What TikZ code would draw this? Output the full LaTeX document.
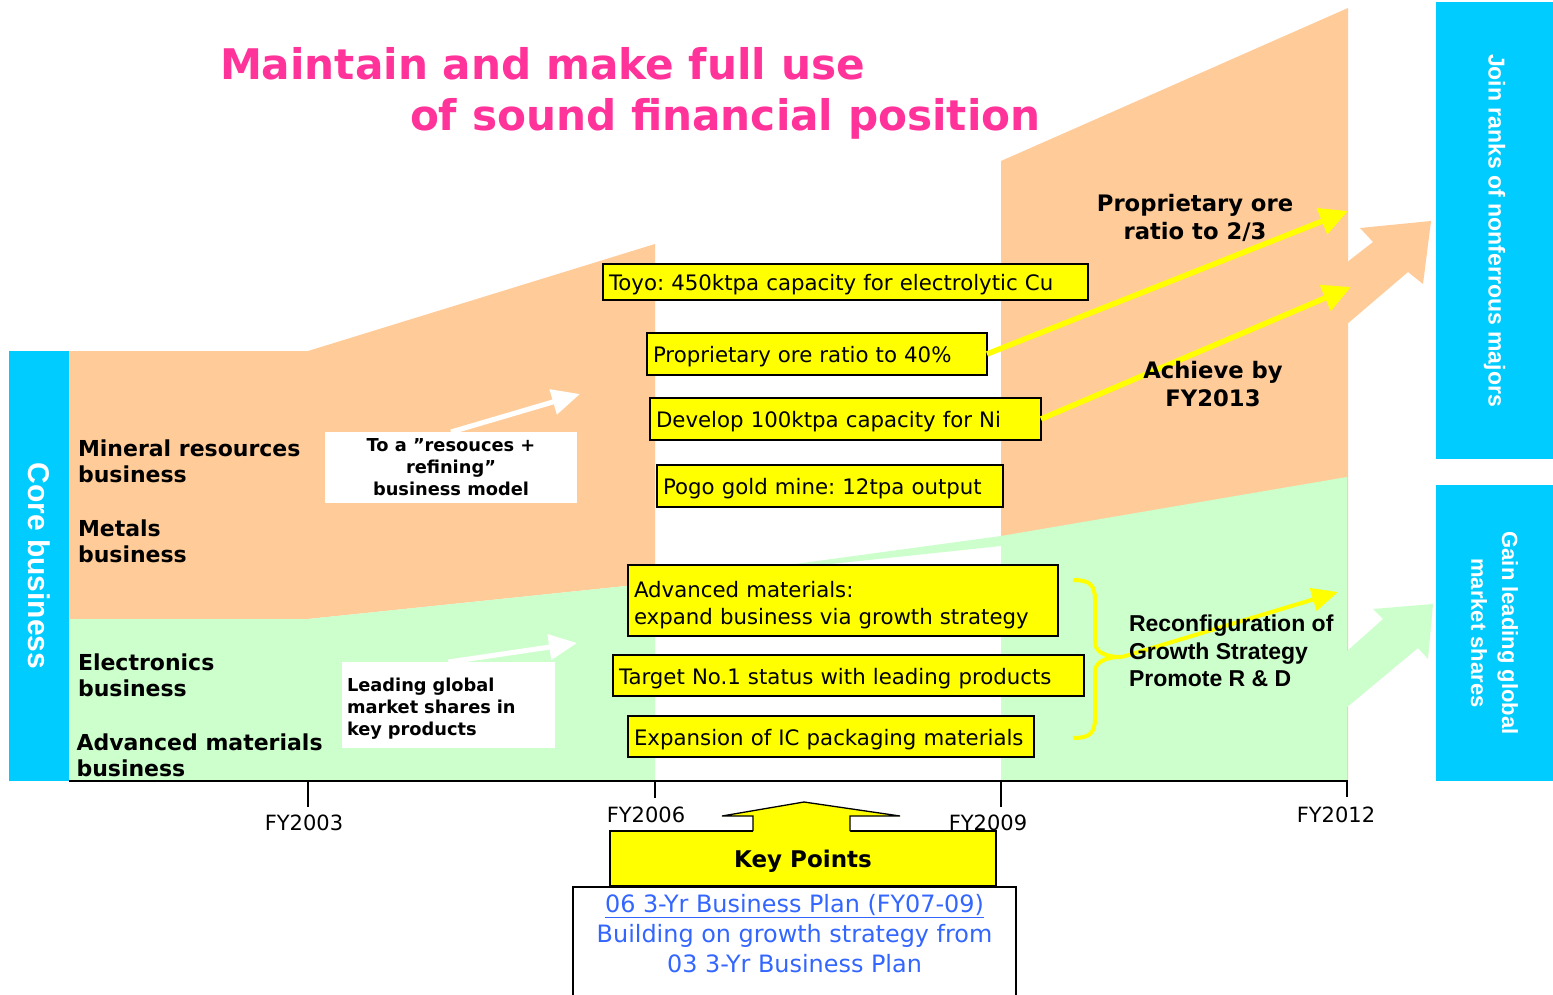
\documentclass[tikz,border=0pt]{standalone}
\usepackage{fontspec}
\setmainfont{DejaVu Sans}
\newfontfamily\arialfont{Liberation Sans}
\usetikzlibrary{arrows.meta}
\definecolor{peach}{HTML}{FFCC99}
\definecolor{mint}{HTML}{CCFFCC}
\definecolor{skyblue}{HTML}{00CCFF}
\definecolor{titlepink}{HTML}{FF3399}
\definecolor{planblue}{HTML}{3366FF}
\definecolor{boxyellow}{HTML}{FFFF00}
\begin{document}
\frenchspacing
\begin{tikzpicture}[x=1pt,y=-1pt,
  every node/.style={inner sep=0pt,outer sep=0pt},
  bluebar/.style={fill=skyblue,text=white,rotate=-90,align=center,font=\arialfont\bfseries\fontsize{23}{31}\selectfont},
  ybox/.style={draw=black,line width=1.3pt,fill=boxyellow,anchor=north west,align=left,inner xsep=6pt,font=\fontsize{21.3}{27}\selectfont},
  oneline/.style={text height=17pt,text depth=0pt},
  wbox/.style={fill=white,anchor=north west,font=\bfseries\fontsize{17.8}{22}\selectfont},
  lab/.style={align=left,anchor=base west,font=\bfseries\fontsize{22}{26}\selectfont},
  note/.style={align=center,anchor=base,font=\bfseries\fontsize{22.7}{27.7}\selectfont},
  fy/.style={anchor=base,font=\fontsize{21}{25}\selectfont},
  yarrow/.style={draw=boxyellow,line width=5.5pt,-{Triangle[length=28pt,width=27pt]}},
  warrow/.style={draw=white,line width=5pt,-{Triangle[length=28pt,width=25pt]}}]
  \useasboundingbox (0,0) rectangle (1553,995);
  \fill[white] (0,0) rectangle (1553,995);

  \fill[peach] (69,351) -- (308,351) -- (655,244) -- (655,583) -- (308,619) -- (69,619) -- cycle;
  \fill[peach] (1001,161) -- (1348,8) -- (1348,781) -- (1001,781) -- cycle;
  \fill[peach] (1346,263) -- (1373,242) -- (1360,228) -- (1431,221) -- (1423,284) -- (1408,272) -- (1346,325) -- cycle;
  \fill[mint] (69,619) -- (308,619) -- (655,583) -- (655,781) -- (69,781) -- cycle;
  \fill[mint] (670,581) -- (1001,536) -- (1001,546) -- cycle;
  \fill[mint] (1001,536) -- (1347,477) -- (1347,781) -- (1001,781) -- cycle;
  \fill[mint] (1346,652) -- (1383,619) -- (1373,609) -- (1433,604) -- (1428,659) -- (1418,648) -- (1346,708) -- cycle;

  \node[bluebar,minimum width=430,minimum height=60,font=\arialfont\bfseries\fontsize{30}{34}\selectfont] (core) at (39,566) {Core business};
  \node[bluebar,minimum width=457,minimum height=117] (majors) at (1494.5,230.5) {Join ranks of nonferrous majors};
  \node[bluebar,minimum width=296,minimum height=117,font=\arialfont\bfseries\fontsize{22}{31}\selectfont] (shares) at (1494.5,633) {Gain leading global\\market shares};

  \node[anchor=base west,text=titlepink,font=\bfseries\fontsize{42.2}{50}\selectfont] (t1) at (220,80) {Maintain and make full use};
  \node[anchor=base west,text=titlepink,font=\bfseries\fontsize{42.2}{50}\selectfont] (t2) at (410,131) {of sound financial position};

  \draw[line width=2pt] (69,781) -- (1348,781);
  \foreach \x/\y in {308/807,655/798,1001/807,1347/797}
    \draw[line width=1.5pt] (\x,781) -- (\x,\y);
  \node[fy] (fy03) at (304,830.7) {FY2003};
  \node[fy] (fy06) at (646,822.7) {FY2006};
  \node[fy] (fy09) at (988,830.7) {FY2009};
  \node[fy] (fy12) at (1336,822) {FY2012};

  \node[wbox,minimum width=252,minimum height=71,align=center] (model) at (325,432) {To a ”resouces +\\refining”\\business model};
  \node[wbox,minimum height=86,text width=203,inner xsep=5pt,align=left] (share) at (342,662) {\rule{0pt}{21.5pt}Leading global\\market shares in\\key products};
  \coordinate (w1) at (580,394);
  \coordinate (w2) at (577,643);
  \draw[warrow] (model.north) -- (w1);
  \draw[warrow] (share.north) -- (w2);

  \node[ybox,oneline,text width=473,minimum height=36] (cu) at (603,264) {Toyo: 450ktpa capacity for electrolytic Cu};
  \node[ybox,oneline,text width=328,minimum height=42] (ore) at (647,333) {Proprietary ore ratio to 40\%};
  \node[ybox,oneline,text width=379,minimum height=42] (ni) at (650,398) {Develop 100ktpa capacity for Ni};
  \node[ybox,oneline,text width=334,minimum height=42] (pogo) at (657,465) {Pogo gold mine: 12tpa output};
  \node[ybox,text width=418,minimum height=71] (adv) at (628,565) {\rule{0pt}{26pt}Advanced materials:\\expand business via growth strategy};
  \node[ybox,oneline,text width=459,minimum height=41] (no1) at (613,655) {Target No.1 status with leading products};
  \node[ybox,oneline,text width=394,minimum height=41] (ic) at (628,716) {Expansion of IC packaging materials};

  \coordinate (y1) at (1348,211);
  \coordinate (y2) at (1351,287);
  \coordinate (y3) at (1338,592);
  \coordinate (br) at (1122,657);
  \draw[yarrow] (ore.east) -- (y1);
  \draw[yarrow] (ni.east) -- (y2);
  \draw[boxyellow,line width=4pt] (1073,580) .. controls (1090,580) and (1095,585) .. (1095,600) -- (1095,642)
    .. controls (1095,652) and (1105,657) .. (br) .. controls (1105,657) and (1095,662) .. (1095,672) -- (1095,718)
    .. controls (1095,733) and (1090,738) .. (1073,738);
  \draw[yarrow,line width=4pt,-{Triangle[length=26pt,width=23pt]}] (br) -- (y3);

  \node[lab] (mr) at (78,482) {Mineral resources\\business};
  \node[lab] (met) at (78,562) {Metals\\business};
  \node[lab] (el) at (78,696) {Electronics\\business};
  \node[lab] (am) at (76.5,776) {Advanced materials\\business};
  \node[note] (prop) at (1195,239.3) {Proprietary ore\\ratio to 2/3};
  \node[note] (ach) at (1213,406) {Achieve by\\FY2013};
  \node[lab,font=\arialfont\bfseries\fontsize{23}{27.5}\selectfont] (reconf) at (1129,686.7) {Reconfiguration of\\Growth Strategy\\Promote R \& D};

  \node[draw,line width=1.3pt,fill=boxyellow,minimum width=386,minimum height=55,anchor=north west,text depth=0pt,font=\bfseries\fontsize{23}{27}\selectfont] (key) at (610,831) {Key Points};
  \fill[boxyellow] (753,831.8) -- (753,816) -- (722,816) -- (804,802) -- (900,816) -- (850,816) -- (850,831.8) -- cycle;
  \draw[line width=1.3pt] (753,831) -- (753,816) -- (722,816) -- (804,802) -- (900,816) -- (850,816) -- (850,831);
  \node[draw,line width=1.3pt,fill=white,minimum width=443,minimum height=130,anchor=north west] (plan) at (573,887) {};
  \node[align=center,anchor=base,text=planblue,font=\fontsize{23.9}{30}\selectfont] (plantxt) at (794.5,972.7) {\underline{06 3-Yr Business Plan (FY07-09)}\\Building on growth strategy from\\03 3-Yr Business Plan};
\end{tikzpicture}
\end{document}
